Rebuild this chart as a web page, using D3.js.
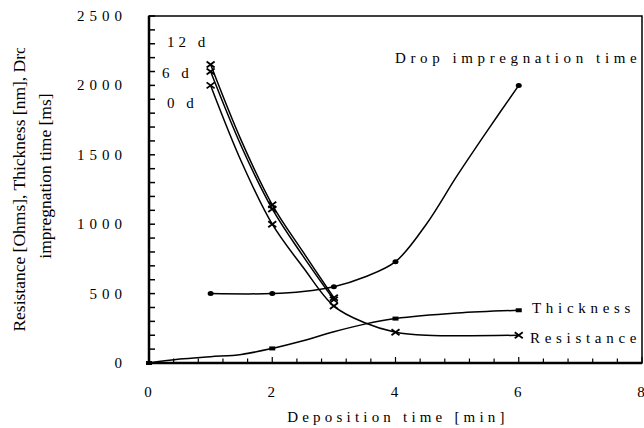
<!DOCTYPE html>
<html><head><meta charset="utf-8">
<script src="https://cdn.jsdelivr.net/npm/d3@7"></script>
<style>
html,body{margin:0;padding:0;background:#fff;}
svg{display:block;}
text{font-family:"Liberation Serif","Times New Roman",serif;fill:#000;}
</style></head>
<body><svg id="c" width="644" height="428"></svg>
<script>
// ---- data ----
const res0Time = [1, 1.5, 2, 2.5, 3, 3.5, 4, 4.5, 6];
const res0Val  = [2000, 1450, 1000, 690, 410, 290, 222, 200, 200];
const res0Marks = [1, 2, 3, 4, 6];
const res6Time = [1, 1.5, 2, 2.5, 3];
const res6Val  = [2100, 1560, 1110, 770, 455];
const res12Time = [1, 1.5, 2, 2.5, 3];
const res12Val  = [2150, 1600, 1140, 800, 470];
const resMarks = [1, 2, 3];
const thickTime = [0, 0.5, 1, 1.5, 2, 2.5, 3, 3.5, 4, 5, 6];
const thickVal  = [0, 28, 45, 62, 105, 160, 225, 280, 320, 360, 380];
const thickMarks = [0, 2, 4, 6];
const dropTime = [1, 2, 2.5, 3, 3.5, 4, 4.5, 5, 5.5, 6];
const dropVal  = [500, 500, 515, 550, 620, 730, 1000, 1350, 1680, 2000];
const dropMarks = [1, 2, 3, 4, 6];
const xTicks = [0, 2, 4, 6, 8];
const yTicks = [0, 500, 1000, 1500, 2000, 2500];
const dayLabels = ["12 d", "6 d", "0 d"];
const xTitle = "Deposition time [min]";
const yTitle1 = "Resistance [Ohms], Thickness [nm], Drop";
const yTitle2 = "impregnation time [ms]";

const svg = d3.select("#c");
const L = 149, R = 642, T = 16, B = 363;
const x = d3.scaleLinear().domain([0, 8]).range([L, R]);
const y = d3.scaleLinear().domain([0, 2500]).range([B, T]);

// frame
svg.append("rect").attr("x", L).attr("y", T).attr("width", R - L).attr("height", B - T)
  .attr("fill", "none").attr("stroke", "#000").attr("stroke-width", 1.5);
svg.append("line").attr("x1", L).attr("x2", L).attr("y1", T).attr("y2", B + 1).attr("stroke", "#000").attr("stroke-width", 2.5);
svg.append("line").attr("x1", L - 1).attr("x2", R).attr("y1", B).attr("y2", B).attr("stroke", "#000").attr("stroke-width", 2.5);

// ticks (inward)
const xMinor = d3.range(0, 8.001, 0.4);
svg.append("g").selectAll("line").data(xMinor).join("line")
  .attr("x1", d => x(d)).attr("x2", d => x(d))
  .attr("y1", B).attr("y2", d => Math.abs(d / 2 - Math.round(d / 2)) < 1e-6 ? B - 6 : B - 4.5)
  .attr("stroke", "#000").attr("stroke-width", 1.2);
const yMinor = d3.range(0, 2501, 100);
svg.append("g").selectAll("line").data(yMinor).join("line")
  .attr("x1", L).attr("x2", L + 6)
  .attr("y1", d => y(d)).attr("y2", d => y(d))
  .attr("stroke", "#000").attr("stroke-width", 1.5);

// tick labels
svg.append("g").selectAll("text").data(xTicks).join("text")
  .attr("x", d => x(d) - 1).attr("y", 397).attr("text-anchor", "middle")
  .attr("font-size", 15).text(d => d);
svg.append("g").selectAll("text").data(yTicks).join("text")
  .attr("x", 127).attr("y", d => y(d) + 5).attr("text-anchor", "end")
  .attr("font-size", 15).attr("letter-spacing", 5).text(d => d);

// titles
svg.append("text").attr("x", 398).attr("y", 422).attr("text-anchor", "middle")
  .attr("font-size", 15).attr("letter-spacing", 4.2).text(xTitle);
svg.append("defs").append("clipPath").attr("id", "yt").append("rect")
  .attr("x", 0).attr("y", 48).attr("width", 70).attr("height", 380);
const yt = svg.append("g").attr("clip-path", "url(#yt)");
yt.append("text").attr("transform", "translate(25,184) rotate(-90)").attr("text-anchor", "middle")
  .attr("font-size", 17.5).text(yTitle1);
yt.append("text").attr("transform", "translate(51,176) rotate(-90)").attr("text-anchor", "middle")
  .attr("font-size", 17.5).text(yTitle2);

// lines
const line = d3.line().x(d => x(d[0])).y(d => y(d[1])).curve(d3.curveCatmullRom.alpha(0.5));
function series(t, v) { return t.map((d, i) => [d, v[i]]); }
const g = svg.append("g").attr("fill", "none").attr("stroke", "#000").attr("stroke-width", 1.5);
const S = {
  r0: series(res0Time, res0Val), r6: series(res6Time, res6Val), r12: series(res12Time, res12Val),
  th: series(thickTime, thickVal), dr: series(dropTime, dropVal)
};
Object.values(S).forEach(s => g.append("path").attr("d", line(s)));

// markers
function val(s, t) { return s.find(d => Math.abs(d[0] - t) < 1e-6)[1]; }
function crosses(s, marks) {
  svg.append("g").selectAll("path").data(marks).join("path")
    .attr("d", t => { const cx = x(t), cy = y(val(s, t)); return `M${cx-4},${cy-3}L${cx+4},${cy+3}M${cx-4},${cy+3}L${cx+4},${cy-3}`; })
    .attr("stroke", "#000").attr("stroke-width", 1.8).attr("fill", "none");
}
crosses(S.r0, res0Marks); crosses(S.r6, resMarks); crosses(S.r12, resMarks);
svg.append("g").selectAll("rect").data(thickMarks).join("rect")
  .attr("x", t => x(t) - 3).attr("y", t => y(val(S.th, t)) - 2).attr("width", 6).attr("height", 4)
  .attr("fill", "#000");
svg.append("g").selectAll("ellipse").data(dropMarks).join("ellipse")
  .attr("cx", t => x(t)).attr("cy", t => y(val(S.dr, t))).attr("rx", 3).attr("ry", 2.5)
  .attr("fill", "#000");

// annotations
const dayY = [47, 78, 108], dayX = [167, 162, 167];
svg.append("g").selectAll("text").data(dayLabels).join("text")
  .attr("x", (d, i) => dayX[i]).attr("y", (d, i) => dayY[i])
  .attr("font-size", 15).attr("letter-spacing", 4).text(d => d);
svg.append("text").attr("x", 395).attr("y", 63).attr("font-size", 15).attr("letter-spacing", 4.6).text("Drop impregnation time");
svg.append("text").attr("x", 532).attr("y", 313).attr("font-size", 15).attr("letter-spacing", 4.7).text("Thickness");
svg.append("text").attr("x", 530).attr("y", 343).attr("font-size", 15).attr("letter-spacing", 4.7).text("Resistance");
</script></body></html>
